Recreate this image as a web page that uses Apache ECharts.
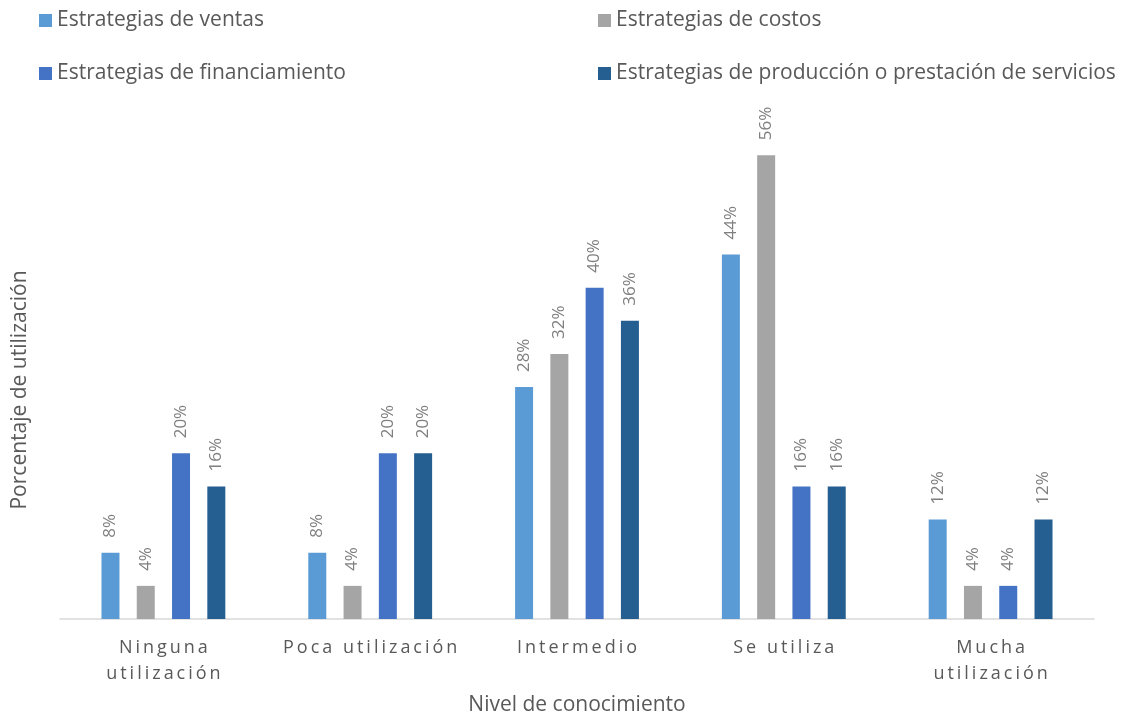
<!DOCTYPE html>
<html><head><meta charset="utf-8">
<script src="https://cdn.jsdelivr.net/npm/echarts@6/dist/echarts.min.js"></script>
<style>html,body{margin:0;padding:0;background:#fff}#c{width:1123px;height:717px}</style>
</head><body><div id="c"></div>
<script>
const categories = ["Ninguna\nutilización", "Poca utilización", "Intermedio", "Se utiliza", "Mucha\nutilización"];
const seriesNames = ["Estrategias de ventas", "Estrategias de costos", "Estrategias de financiamiento", "Estrategias de producción o prestación de servicios"];
const ventas = [8, 8, 28, 44, 12];
const costos = [4, 4, 32, 56, 4];
const financiamiento = [20, 20, 40, 16, 4];
const produccion = [16, 20, 36, 16, 12];
const xTitle = "Nivel de conocimiento";
const yTitle = "Porcentaje de utilización";
const colors = ["#5b9bd5", "#a5a5a5", "#4472c4", "#255e91"];
const FONT = "Open Sans";
const spaced = s => s.split("\n").map(l => l.split("").join("\u2009")).join("\n");
const values = [ventas, costos, financiamiento, produccion];
const chart = echarts.init(document.getElementById("c"));
chart.setOption({
  animation: false,
  textStyle: {fontFamily: FONT},
  legend: [
    {left: 34, top: 5, orient: "vertical", itemGap: 32, itemWidth: 13, itemHeight: 13, icon: "rect",
     textStyle: {fontSize: 21, color: "#595959", fontFamily: FONT}, data: [seriesNames[0], seriesNames[2]]},
    {left: 593, top: 5, orient: "vertical", itemGap: 32, itemWidth: 13, itemHeight: 13, icon: "rect",
     textStyle: {fontSize: 21, color: "#595959", fontFamily: FONT}, data: [seriesNames[1], seriesNames[3]]}
  ],
  graphic: [{
    type: "text", x: 20, y: 390, rotation: Math.PI / 2,
    style: {text: yTitle, fontSize: 21, fill: "#595959", fontFamily: FONT, align: "center", verticalAlign: "middle"}
  }],
  grid: {left: 60, right: 29, top: 122, bottom: 98, containLabel: false, outerBoundsMode: "none"},
  xAxis: {
    type: "category", data: categories,
    name: xTitle, nameLocation: "middle", nameGap: 76,
    nameTextStyle: {fontSize: 21, color: "#595959", fontFamily: FONT},
    axisLine: {lineStyle: {color: "#d9d9d9", width: 1.5}},
    axisTick: {show: false},
    axisLabel: {interval: 0, fontSize: 18, color: "#595959", lineHeight: 26, margin: 16, fontFamily: FONT,
      formatter: v => spaced(v)}
  },
  yAxis: {
    type: "value", min: 0, max: 60,
    axisLine: {show: false}, axisTick: {show: false}, axisLabel: {show: false}, splitLine: {show: false}
  },
  series: seriesNames.map((n, i) => ({
    name: n, type: "bar", data: values[i], barWidth: 18, barGap: "96%",
    itemStyle: {color: colors[i]},
    label: {show: true, position: "top", rotate: 90, align: "left", verticalAlign: "middle", distance: 15,
      fontSize: 17, color: "#7f7f7f", fontFamily: FONT, formatter: p => p.value + "%"}
  }))
});
</script></body></html>
